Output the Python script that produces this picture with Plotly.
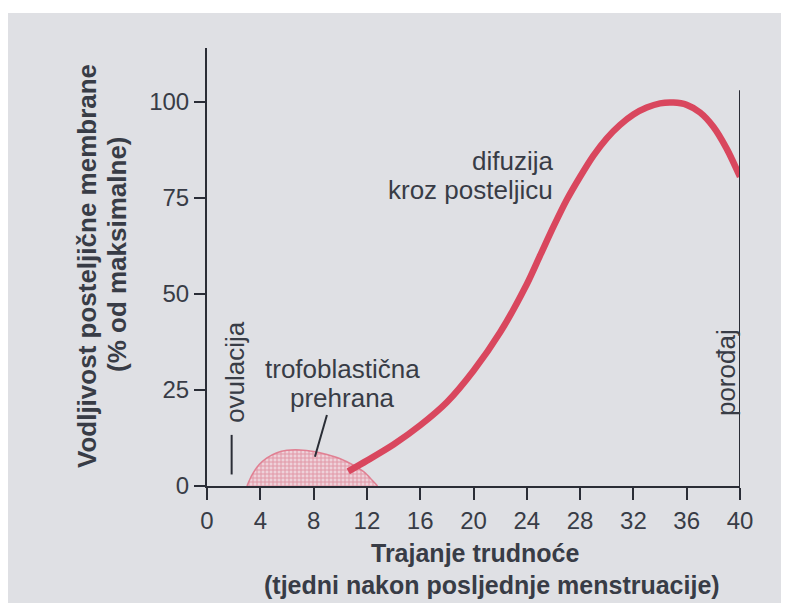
import plotly.graph_objects as go

# ---- data ----
x_ticks = [0, 4, 8, 12, 16, 20, 24, 28, 32, 36, 40]
y_ticks = [0, 25, 50, 75, 100]

diffusion_weeks = [10.6, 12, 14, 16, 18, 20, 22, 24, 25, 26, 27, 28, 29, 30,
                   31, 32, 33, 34, 35, 36, 37, 38, 39, 40]
diffusion_vals = [3.8, 6.6, 10.8, 15.8, 21.8, 30.0, 40.0, 52.5, 60.0, 67.5, 74.5, 80.5, 86.0, 90.5,
                  94.0, 96.7, 98.5, 99.6, 99.8, 99.2, 97.2, 93.5, 87.8, 80.5]

troph_weeks = [3.0, 3.4, 3.9, 4.5, 5.2, 6.0, 7.0, 8.0, 9.0, 10.0, 11.0, 11.8, 12.4, 12.8]
troph_vals = [0.0, 3.0, 5.5, 7.3, 8.6, 9.3, 9.4, 9.0, 8.2, 7.1, 5.4, 3.6, 1.5, 0.0]

ovulation_week = [1.85, 1.85]
ovulation_span = [3.0, 13.3]

delivery_week = [40, 40]
delivery_span = [0, 103]

pointer_weeks = [9.0, 8.1]
pointer_vals = [18.5, 7.6]

FONT = "Liberation Sans, Arial, Helvetica, sans-serif"
TXT = "#383c46"
AX = "#2a2d36"
RED = "#d9475e"

# page body has an 8px margin: figure is drawn at (8, 8)
OFF = 8
W, H = 789 - OFF, 603 - OFF
L, R, T, B = 207 - OFF, 49, 48 - OFF, 117
PW, PH = W - L - R, H - T - B


def px_x(px):
    return (px - 207) / PW


def px_y(py):
    return (486 - py) / PH


fig = go.Figure()

fig.add_trace(go.Scatter(
    x=troph_weeks, y=troph_vals, mode="lines", fill="tozeroy",
    line=dict(color="rgba(224,120,140,0.9)", width=1.5, shape="spline", smoothing=0.8),
    fillcolor="rgba(236,200,210,1)",
    fillpattern=dict(shape="+", fgcolor="rgba(210,80,105,0.9)", bgcolor="rgba(238,210,218,1)",
                     size=4, solidity=0.45),
    hoverinfo="skip", showlegend=False))

fig.add_trace(go.Scatter(
    x=diffusion_weeks, y=diffusion_vals, mode="lines",
    line=dict(color=RED, width=6.5, shape="spline", smoothing=0.8),
    showlegend=False))

fig.add_trace(go.Scatter(x=ovulation_week, y=ovulation_span, mode="lines",
                         line=dict(color=AX, width=2), showlegend=False))
fig.add_trace(go.Scatter(x=delivery_week, y=delivery_span, mode="lines",
                         line=dict(color=AX, width=2), showlegend=False, cliponaxis=False))
fig.add_trace(go.Scatter(x=pointer_weeks, y=pointer_vals, mode="lines",
                         line=dict(color=AX, width=2), showlegend=False))

ann_font = dict(family=FONT, size=26, color=TXT)
annotations = [
    dict(x=26.1, y=84.5, text="difuzija", xanchor="right", yanchor="middle"),
    dict(x=26.1, y=77.0, text="kroz posteljicu", xanchor="right", yanchor="middle"),
    dict(x=10.2, y=30.5, text="trofoblastična", xanchor="center", yanchor="middle"),
    dict(x=10.2, y=23.0, text="prehrana", xanchor="center", yanchor="middle"),
    dict(x=2.1, y=29.7, text="ovulacija", textangle=-90, xanchor="center", yanchor="middle"),
    dict(x=38.95, y=29.4, text="porođaj", textangle=-90, xanchor="center", yanchor="middle"),
]
for a in annotations:
    a.update(xref="x", yref="y", showarrow=False, font=ann_font)

title_font = dict(family=FONT, size=25, color=TXT)
annotations += [
    dict(xref="paper", yref="paper", x=px_x(475), y=px_y(553), text="<b>Trajanje trudnoće</b>",
         showarrow=False, xanchor="center", yanchor="middle", font=title_font),
    dict(xref="paper", yref="paper", x=px_x(492), y=px_y(585),
         text="<b>(tjedni nakon posljednje menstruacije)</b>",
         showarrow=False, xanchor="center", yanchor="middle", font=title_font),
    dict(xref="paper", yref="paper", x=px_x(87), y=px_y(266),
         text="<b>Vodljivost posteljične membrane</b>", textangle=-90,
         showarrow=False, xanchor="center", yanchor="middle", font=dict(family=FONT, size=26, color=TXT)),
    dict(xref="paper", yref="paper", x=px_x(117), y=px_y(254),
         text="<b>(% od maksimalne)</b>", textangle=-90,
         showarrow=False, xanchor="center", yanchor="middle", font=dict(family=FONT, size=26, color=TXT)),
]

fig.update_layout(
    width=W, height=H,
    margin=dict(l=L, r=R, t=T, b=B),
    paper_bgcolor="#dfe0e4", plot_bgcolor="rgba(0,0,0,0)",
    font=dict(family=FONT, color=TXT),
    annotations=annotations,
    shapes=[dict(type="rect", xref="paper", yref="paper",
                 x0=px_x(0), x1=px_x(800), y0=px_y(-5), y1=px_y(13),
                 fillcolor="white", line=dict(width=0), layer="below")],
)
fig.update_xaxes(range=[0, 40], tickvals=x_ticks, ticktext=[str(t) for t in x_ticks],
                 showgrid=False, zeroline=False, showline=True, linecolor=AX, linewidth=2,
                 ticks="outside", ticklen=12, tickwidth=2, tickcolor=AX,
                 tickfont=dict(family=FONT, size=24, color=TXT))
fig.update_yaxes(range=[0, 114], tickvals=y_ticks, ticktext=[str(t) for t in y_ticks],
                 showgrid=False, zeroline=False, showline=True, linecolor=AX, linewidth=2,
                 ticks="outside", ticklen=11, tickwidth=2, tickcolor=AX,
                 tickfont=dict(family=FONT, size=24, color=TXT))

fig.write_html("out.html")
